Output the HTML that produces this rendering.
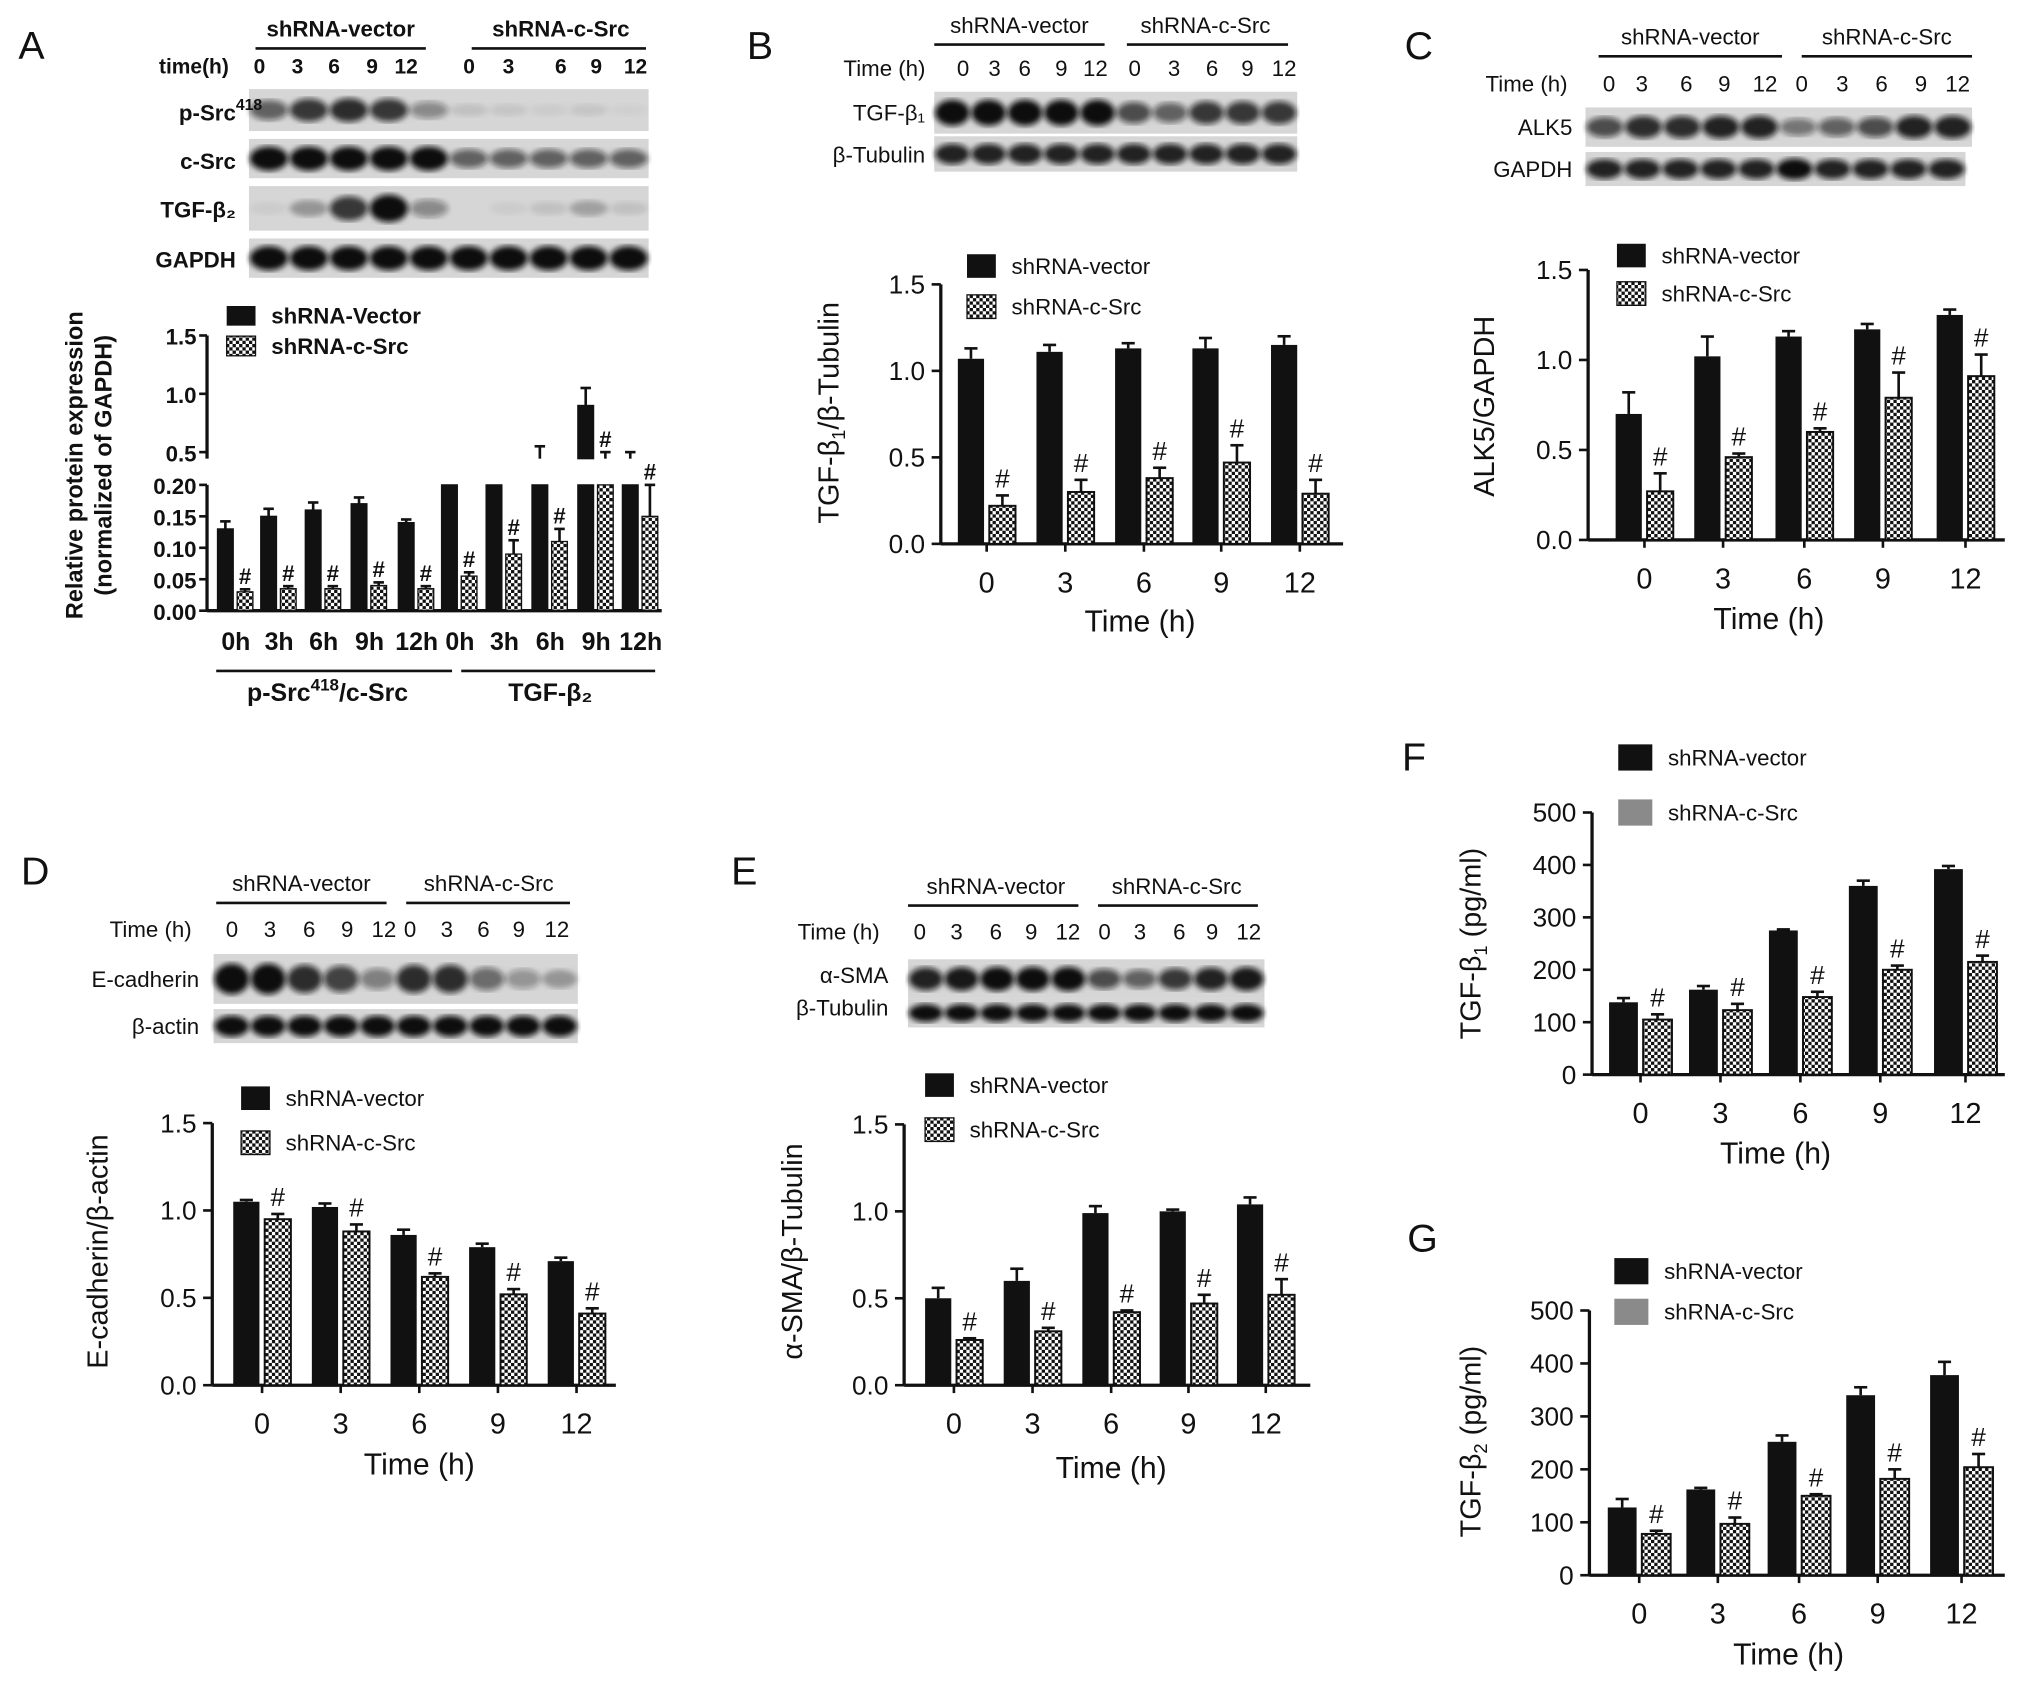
<!DOCTYPE html>
<html><head><meta charset="utf-8">
<style>
html,body{margin:0;padding:0;background:#fff;}
svg{display:block;}
text{font-family:"Liberation Sans",sans-serif;fill:#111;}
.b{font-weight:bold;}
</style></head>
<body>
<svg id="fig" width="2031" height="1684" viewBox="0 0 1550 1285" preserveAspectRatio="none" xmlns="http://www.w3.org/2000/svg">
<defs>
<pattern id="chk" width="5" height="5" patternUnits="userSpaceOnUse">
<rect width="5" height="5" fill="#fff"/><rect width="2.5" height="2.5" fill="#111"/><rect x="2.5" y="2.5" width="2.5" height="2.5" fill="#111"/>
</pattern>
<filter id="blur"><feGaussianBlur stdDeviation="2.2"/></filter>
</defs>
<g id="root"></g>
</svg>
<script>
// ---------- data ----------
const groupsA = ["0h","3h","6h","9h","12h","0h","3h","6h","9h","12h"];
const aBlack = [0.13,0.15,0.16,0.17,0.14,0.30,0.35,0.45,0.90,0.45];
const aBlackErr = [0.012,0.012,0.012,0.01,0.005,0,0,0.1,0.15,0.05];
const aPat = [0.03,0.035,0.035,0.04,0.035,0.055,0.09,0.11,0.45,0.15];
const aPatErr = [0.004,0.004,0.004,0.005,0.004,0.006,0.022,0.02,0.05,0.05];

const timeCats = ["0","3","6","9","12"];
const yTicks15 = ["0.0","0.5","1.0","1.5"];
const yTicks500 = ["0","100","200","300","400","500"];

const bBlack = [1.07,1.11,1.13,1.13,1.15];
const bBlackErr = [0.06,0.04,0.03,0.06,0.05];
const bPat = [0.22,0.30,0.38,0.47,0.29];
const bPatErr = [0.06,0.07,0.06,0.1,0.08];

const cBlack = [0.70,1.02,1.13,1.17,1.25];
const cBlackErr = [0.12,0.11,0.03,0.03,0.03];
const cPat = [0.27,0.46,0.60,0.79,0.91];
const cPatErr = [0.1,0.02,0.02,0.14,0.12];

const dBlack = [1.05,1.02,0.86,0.79,0.71];
const dBlackErr = [0.01,0.02,0.03,0.02,0.02];
const dPat = [0.95,0.88,0.62,0.52,0.41];
const dPatErr = [0.03,0.04,0.02,0.03,0.03];

const eBlack = [0.50,0.60,0.99,1.00,1.04];
const eBlackErr = [0.06,0.07,0.04,0.01,0.04];
const ePat = [0.26,0.31,0.42,0.47,0.52];
const ePatErr = [0.01,0.02,0.01,0.05,0.09];

const fBlack = [138,162,275,360,392];
const fBlackErr = [8,7,2,10,6];
const fPat = [105,123,148,200,215];
const fPatErr = [10,12,10,8,12];

const gBlack = [128,162,252,340,378];
const gBlackErr = [16,3,12,15,25];
const gPat = [78,97,150,182,204];
const gPatErr = [6,12,3,18,25];

// ---------- helpers ----------
const NS="http://www.w3.org/2000/svg";
const root=document.getElementById('root');
function mk(tag,attrs,parent){const e=document.createElementNS(NS,tag);for(const k in attrs)e.setAttribute(k,attrs[k]);(parent||root).appendChild(e);return e;}
function txt(x,y,s,size,anchor,parent,bold){const t=mk('text',{x:x,y:y,'font-size':size,'text-anchor':anchor||'middle'},parent);if(bold)t.setAttribute('font-weight','bold');t.textContent=s;return t;}
function line(x1,y1,x2,y2,w,parent){return mk('line',{x1:x1,y1:y1,x2:x2,y2:y2,stroke:'#111','stroke-width':w||2},parent);}

function blot(x,y,w,h,bands,name){
  const g=mk('g',{});
  
  
  mk('rect',{x:x,y:y,width:w,height:h,fill:'#d6d6d6'},g);
  const n=bands.length, bw=w/n;
  bands.forEach((v,i)=>{
    if(v<=0)return;
    const e=mk('ellipse',{cx:x+bw*(i+0.5),cy:y+h/2,rx:bw*0.48,ry:h*0.22*(0.6+v*0.8),fill:'#111','fill-opacity':v,filter:'url(#blur)'},g);
    
    
  });
}
function header(cx1,cx2,y,ulx1,ulx2,ulx3,ulx4,size,bold){
  const g=mk('g',{});
  
  
  txt(cx1,y,'shRNA-vector',size,'middle',g,bold);
  txt(cx2,y,'shRNA-c-Src',size,'middle',g,bold);
  line(ulx1,y+9,ulx2,y+9,2,g);line(ulx3,y+9,ulx4,y+9,2,g);
}
function timeRow(lx,y,xs,size,label,bold){
  const g=mk('g',{});
  
  
  txt(lx,y,label,size,'middle',g,bold);
  const nums=["0","3","6","9","12","0","3","6","9","12"];
  xs.forEach((x,i)=>txt(x,y,nums[i],size,'middle',g,bold));
}
function legend(x,y1,y2,grayMode,s1,size,w,h){
  const g=mk('g',{});
  
  
  mk('rect',{x:x,y:y1-h/2,width:w,height:h,fill:'#111'},g);
  mk('rect',{x:x,y:y2-h/2,width:w,height:h,fill:grayMode?'#8a8a8a':'url(#chk)',stroke:grayMode?'none':'#111','stroke-width':1},g);
  txt(x+w+12,y1+6,s1||'shRNA-vector',size,'start',g);
  txt(x+w+12,y2+6,'shRNA-c-Src',size,'start',g);
}

function barChart(o){
  const g=mk('g',{});
  
  
  const ys=v=>o.y0-(v/o.ymax)*(o.y0-o.yTop);
  // axes
  line(o.ax,o.yTop,o.ax,o.y0,2.5,g);
  line(o.ax,o.y0,o.axEnd,o.y0,2.5,g);
  o.ticks.forEach((t,i)=>{
    const v=o.ymax*i/(o.ticks.length-1);
    line(o.ax-7,ys(v),o.ax,ys(v),2,g);
    txt(o.ax-12,ys(v)+7,t,o.tickSize,'end',g);
  });
  o.cats.forEach((c,i)=>{
    const cx=o.centers[i];
    line(cx,o.y0,cx,o.y0+6,2,g);
    txt(cx,o.y0+37,c,o.tickSize+2,'middle',g);
    const hb=o.black[i], hp=o.pat[i];
    const bx=cx-o.bw-o.gap/2, px=cx+o.gap/2;
    const rb=mk('rect',{x:bx,y:ys(hb),width:o.bw,height:o.y0-ys(hb),fill:'#111'},g);
    
    
    line(bx+o.bw/2,ys(hb),bx+o.bw/2,ys(hb+o.blackErr[i]),2,g);
    line(bx+o.bw/2-5,ys(hb+o.blackErr[i]),bx+o.bw/2+5,ys(hb+o.blackErr[i]),2,g);
    const rp=mk('rect',{x:px,y:ys(hp),width:o.bw,height:o.y0-ys(hp),fill:'url(#chk)',stroke:'#111','stroke-width':1.5},g);
    
    
    line(px+o.bw/2,ys(hp),px+o.bw/2,ys(hp+o.patErr[i]),2,g);
    line(px+o.bw/2-5,ys(hp+o.patErr[i]),px+o.bw/2+5,ys(hp+o.patErr[i]),2,g);
    const h=txt(px+o.bw/2,ys(hp+o.patErr[i])-6,'#',o.tickSize,'middle',g);
    
    
  });
  txt(o.xTitleX,o.xTitleY,'Time (h)',o.tickSize+3,'middle',g);
  const yt=mk('text',{x:0,y:0,'font-size':o.tickSize+2,'text-anchor':'middle',transform:`translate(${o.yTitleX},${o.yTitleY}) rotate(-90)`},g);
  
  
  yt.innerHTML=o.yTitle;
}

// ---------- Panel letters ----------
[['A',14,45],['B',570,45],['C',1072,45],['D',16,675],['E',558,675],['F',1070,588],['G',1074,955]].forEach(p=>{
  const t=txt(p[1],p[2],p[0],30,'start');
  
  
});

// ---------- Panel A blots ----------
header(260,428,28,195,325,360,493,17,true);
timeRow(148,56,[198,227,255,284,310,358,388,428,455,485],16,'time(h)',true);
blot(190,68,305,32,[0.6,0.8,0.85,0.8,0.4,0.1,0.08,0.05,0.08,0.03],'blot-psrc');
blot(190,106,305,30,[1,1,1,1,1,0.6,0.6,0.6,0.6,0.6],'blot-csrc');
blot(190,142,305,34,[0.05,0.3,0.8,1,0.4,0,0.05,0.1,0.25,0.1],'blot-tgfb2');
blot(190,182,305,30,[1,1,1,1,1,1,1,1,1,1],'blot-gapdh-a');
(function(){
  const g=mk('g',{});
  
  
  txt(180,92,'p-Src',17,'end',g,true);
  const s=txt(180,84,'418',12,'start',g,true);
  txt(180,129,'c-Src',17,'end',g,true);
  txt(180,166,'TGF-β₂',17,'end',g,true);
  txt(180,204,'GAPDH',17,'end',g,true);
})();

// ---------- Panel A chart (broken axis) ----------
(function(){
  const g=mk('g',{});
  
  
  const ax=158, y0=466, yL=370, uBot=350, u05=345, u15=256;
  const yLow=v=>y0-(v/0.2)*(y0-yL);
  const yUp=v=>u05-((v-0.5)/1.0)*(u05-u15);
  line(ax,yL,ax,y0,2.5,g);line(ax,u15,ax,uBot,2.5,g);
  line(ax,y0,505,y0,2.5,g);
  ["0.00","0.05","0.10","0.15","0.20"].forEach((t,i)=>{const y=yLow(0.05*i);line(ax-6,y,ax,y,2,g);txt(ax-8,y+7,t,17,'end',g,true);});
  ["0.5","1.0","1.5"].forEach((t,i)=>{const y=yUp(0.5+0.5*i);line(ax-6,y,ax,y,2,g);txt(ax-8,y+7,t,17,'end',g,true);});
  const centers=[180,213,247,282,318,351,385,420,455,489];
  function drawBar(x,w,v,err,fill,name,hash){
    const lowTop=Math.max(yLow(Math.min(v,0.2)),yL);
    const r=mk('rect',{x:x,y:lowTop,width:w,height:y0-lowTop,fill:fill,stroke:'#111','stroke-width':1},g);
    
    
    let top=lowTop, errTop;
    if(v>0.2){
      if(v>0.45){top=yUp(v);mk('rect',{x:x,y:top,width:w,height:uBot-top,fill:fill,stroke:'#111','stroke-width':1},g);}
      else top=uBot;
      errTop=v+err>0.45?yUp(v+err):null;
    } else errTop=yLow(v+err);
    if(errTop!==null && err>0){line(x+w/2,top,x+w/2,errTop,2,g);line(x+w/2-4,errTop,x+w/2+4,errTop,2,g);}
    if(hash){txt(x+w/2,(errTop!==null?errTop:top)-4,'#',17,'middle',g,true);}
  }
  groupsA.forEach((c,i)=>{
    const cx=centers[i];
    drawBar(cx-14,12,aBlack[i],aBlackErr[i],'#111','bar-vector-'+i,false);
    drawBar(cx+1,12,aPat[i],aPatErr[i],'url(#chk)','bar-csrc-'+i,true);
    txt(cx,496,c,19,'middle',g,true);
  });
  line(165,512,345,512,2,g);line(352,512,500,512,2,g);
  const t1=txt(250,535,'p-Src',19,'middle',g,true);
  t1.innerHTML='p-Src<tspan font-size="13" dy="-8">418</tspan><tspan dy="8">/c-Src</tspan>';
  txt(420,535,'TGF-β₂',19,'middle',g,true);
  const yt=mk('text',{x:0,y:0,'font-size':18,'font-weight':'bold','text-anchor':'middle',transform:'translate(63,355) rotate(-90)'},g);
  yt.textContent='Relative protein expression';
  const yt2=mk('text',{x:0,y:0,'font-size':18,'font-weight':'bold','text-anchor':'middle',transform:'translate(85,355) rotate(-90)'},g);
  yt2.textContent='(normalized of GAPDH)';
})();
legend(173,241,264,false,'shRNA-Vector',17,22,15);
root.lastChild.querySelectorAll('text').forEach(t=>t.setAttribute('font-weight','bold'));

// ---------- Panel B ----------
header(778,920,25,713,843,860,983,17,false);
timeRow(675,58,[735,759,782,810,836,866,896,925,952,980],17,'Time (h)',false);
blot(713,70,277,32,[1,1,1,1,1,0.7,0.6,0.8,0.8,0.8],'blot-tgfb1');
blot(713,104,277,27,[0.9,0.9,0.9,0.9,0.9,0.9,0.9,0.9,0.9,0.9],'blot-tubulin-b');
(function(){const g=mk('g',{});
txt(706,92,'TGF-β₁',17,'end',g);txt(706,124,'β-Tubulin',17,'end',g);})();
legend(738,203,234,false,'shRNA-vector',17,22,18);
barChart({name:'chart-b',ax:718,axEnd:1025,y0:415,yTop:217,ymax:1.5,ticks:yTicks15,cats:timeCats,centers:[753,813,873,932,992],black:bBlack,blackErr:bBlackErr,pat:bPat,patErr:bPatErr,bw:20,gap:4,tickSize:20,xTitleX:870,xTitleY:482,yTitleX:640,yTitleY:315,yTitle:'TGF-β<tspan font-size="14" dy="5">1</tspan><tspan dy="-5">/β-Tubulin</tspan>'});

// ---------- Panel C ----------
header(1290,1440,34,1220,1360,1375,1505,17,false);
timeRow(1165,70,[1228,1253,1287,1316,1347,1375,1406,1436,1466,1494],17,'Time (h)',false);
blot(1210,82,295,30,[0.7,0.85,0.85,0.9,0.9,0.5,0.6,0.7,0.9,0.9],'blot-alk5');
blot(1210,116,290,26,[0.9,0.9,0.9,0.9,0.9,1,0.9,0.9,0.9,0.9],'blot-gapdh-c');
(function(){const g=mk('g',{});
txt(1200,103,'ALK5',17,'end',g);txt(1200,135,'GAPDH',17,'end',g);})();
legend(1234,195,224,false,'shRNA-vector',17,22,18);
barChart({name:'chart-c',ax:1212,axEnd:1530,y0:412,yTop:206,ymax:1.5,ticks:yTicks15,cats:timeCats,centers:[1255,1315,1377,1437,1500],black:cBlack,blackErr:cBlackErr,pat:cPat,patErr:cPatErr,bw:20,gap:4,tickSize:20,xTitleX:1350,xTitleY:480,yTitleX:1140,yTitleY:310,yTitle:'ALK5/GAPDH'});

// ---------- Panel D ----------
header(230,373,680,165,295,310,435,17,false);
timeRow(115,715,[177,206,236,265,293,313,341,369,396,425],17,'Time (h)',false);
blot(163,728,278,38,[1,1,0.85,0.75,0.45,0.85,0.85,0.55,0.35,0.3],'blot-ecadherin');
blot(163,770,278,26,[1,1,1,1,1,1,1,1,1,1],'blot-actin');
(function(){const g=mk('g',{});
txt(152,753,'E-cadherin',17,'end',g);txt(152,789,'β-actin',17,'end',g);})();
legend(184,838,872,false,'shRNA-vector',17,22,18);
barChart({name:'chart-d',ax:162,axEnd:470,y0:1057,yTop:857,ymax:1.5,ticks:yTicks15,cats:timeCats,centers:[200,260,320,380,440],black:dBlack,blackErr:dBlackErr,pat:dPat,patErr:dPatErr,bw:20,gap:4,tickSize:20,xTitleX:320,xTitleY:1125,yTitleX:82,yTitleY:955,yTitle:'E-cadherin/β-actin'});

// ---------- Panel E ----------
header(760,898,682,693,823,838,960,17,false);
timeRow(640,717,[702,730,760,787,815,843,870,900,925,953],17,'Time (h)',false);
blot(693,732,272,30,[0.9,0.95,1,1,1,0.7,0.6,0.8,0.9,0.95],'blot-asma');
blot(693,762,272,22,[1,1,1,1,1,1,1,1,1,1],'blot-tubulin-e');
(function(){const g=mk('g',{});
txt(678,750,'α-SMA',17,'end',g);txt(678,775,'β-Tubulin',17,'end',g);})();
legend(706,828,862,false,'shRNA-vector',17,22,18);
barChart({name:'chart-e',ax:690,axEnd:1000,y0:1057,yTop:858,ymax:1.5,ticks:yTicks15,cats:timeCats,centers:[728,788,848,907,966],black:eBlack,blackErr:eBlackErr,pat:ePat,patErr:ePatErr,bw:20,gap:4,tickSize:20,xTitleX:848,xTitleY:1128,yTitleX:612,yTitleY:955,yTitle:'α-SMA/β-Tubulin'});

// ---------- Panel F ----------
legend(1235,578,620,true,'shRNA-vector',17,26,20);
barChart({name:'chart-f',ax:1215,axEnd:1530,y0:820,yTop:620,ymax:500,ticks:yTicks500,cats:timeCats,centers:[1252,1313,1374,1435,1500],black:fBlack,blackErr:fBlackErr,pat:fPat,patErr:fPatErr,bw:22,gap:4,tickSize:20,xTitleX:1355,xTitleY:888,yTitleX:1130,yTitleY:720,yTitle:'TGF-β<tspan font-size="14" dy="5">1</tspan><tspan dy="-5"> (pg/ml)</tspan>'});

// ---------- Panel G ----------
legend(1232,970,1001,true,'shRNA-vector',17,26,20);
barChart({name:'chart-g',ax:1213,axEnd:1530,y0:1202,yTop:1000,ymax:500,ticks:yTicks500,cats:timeCats,centers:[1251,1311,1373,1433,1497],black:gBlack,blackErr:gBlackErr,pat:gPat,patErr:gPatErr,bw:22,gap:4,tickSize:20,xTitleX:1365,xTitleY:1270,yTitleX:1130,yTitleY:1100,yTitle:'TGF-β<tspan font-size="14" dy="5">2</tspan><tspan dy="-5"> (pg/ml)</tspan>'});
</script>
</body></html>
